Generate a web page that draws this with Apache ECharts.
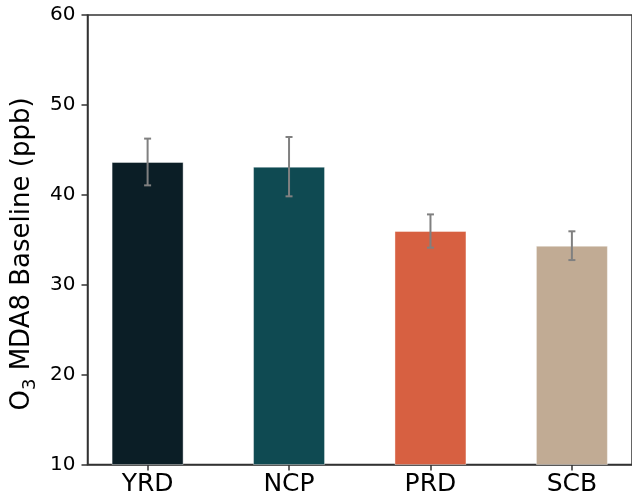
<!DOCTYPE html>
<html>
<head>
<meta charset="utf-8">
<script src="https://cdn.jsdelivr.net/npm/echarts@6/dist/echarts.min.js"></script>
<style>html,body{margin:0;padding:0;background:#fff}#c{width:632px;height:502px}</style>
</head>
<body>
<div id="c"></div>
<script>
const categories = ['YRD', 'NCP', 'PRD', 'SCB'];
const values = [43.65, 43.13, 35.97, 34.34];
const errors = [2.6, 3.3, 1.85, 1.6];
const barColors = ['#0b1e26', '#0f4a52', '#d76041', '#c1ab94'];
const yTicks = [10, 20, 30, 40, 50, 60];

const chart = echarts.init(document.getElementById('c'), null, {renderer: 'canvas'});
const FONT = 'DejaVu Sans';
const axisColor = '#333';

const barData = values.map((v, i) => ({value: [i, v], itemStyle: {color: barColors[i]}}));
const errData = values.map((v, i) => [i, v - errors[i], v + errors[i]]);

chart.setOption({
  animation: false,
  grid: {left: 87.5, right: -9, top: 15, bottom: 37.5, show: true, borderColor: axisColor, borderWidth: 1.5, backgroundColor: 'transparent'},
  xAxis: {
    type: 'value', min: -0.425, max: 3.425,
    axisLine: {show: true, onZero: false, lineStyle: {color: axisColor, width: 1.5}},
    axisTick: {show: true, length: 6, customValues: [0, 1, 2, 3], lineStyle: {color: axisColor, width: 1.5}},
    axisLabel: {show: true, customValues: [0, 1, 2, 3], formatter: v => categories[Math.round(v)], fontFamily: FONT, fontSize: 25, color: '#000', margin: 7},
    splitLine: {show: false}
  },
  yAxis: {
    type: 'value', min: yTicks[0], max: yTicks[yTicks.length - 1], interval: 10,
    axisLine: {show: true, onZero: false, lineStyle: {color: axisColor, width: 1.5}},
    axisTick: {show: true, length: 6, lineStyle: {color: axisColor, width: 1.5}},
    axisLabel: {fontFamily: FONT, fontSize: 20, color: '#000', margin: 12},
    splitLine: {show: false}
  },
  graphic: [{
    type: 'text', x: 22.5, y: 254, rotation: Math.PI / 2,
    style: {
      text: '{a|O}{s|3}{a| MDA8 Baseline (ppb)}',
      align: 'center', verticalAlign: 'middle',
      rich: {
        a: {fontFamily: FONT, fontSize: 26, fill: '#000', lineHeight: 34, verticalAlign: 'middle'},
        s: {fontFamily: FONT, fontSize: 18, fill: '#000', lineHeight: 18, verticalAlign: 'bottom'}
      }
    }
  }],
  series: [{
    type: 'bar', data: barData, barWidth: 72, z: 2,
    itemStyle: {borderColor: 'rgba(255,255,255,0.4)', borderWidth: 1}
  }, {
    type: 'custom', data: errData, z: 5,
    encode: {x: 0, y: [1, 2]},
    renderItem: function (params, api) {
      const x = api.value(0);
      const lo = api.coord([x, api.value(1)]);
      const hi = api.coord([x, api.value(2)]);
      const st = {stroke: '#808080', lineWidth: 2};
      const cap = 3.5;
      return {type: 'group', children: [
        {type: 'line', shape: {x1: lo[0], y1: lo[1], x2: hi[0], y2: hi[1]}, style: st},
        {type: 'line', shape: {x1: hi[0] - cap, y1: hi[1], x2: hi[0] + cap, y2: hi[1]}, style: st},
        {type: 'line', shape: {x1: lo[0] - cap, y1: lo[1], x2: lo[0] + cap, y2: lo[1]}, style: st}
      ]};
    }
  }]
});
</script>
</body>
</html>
